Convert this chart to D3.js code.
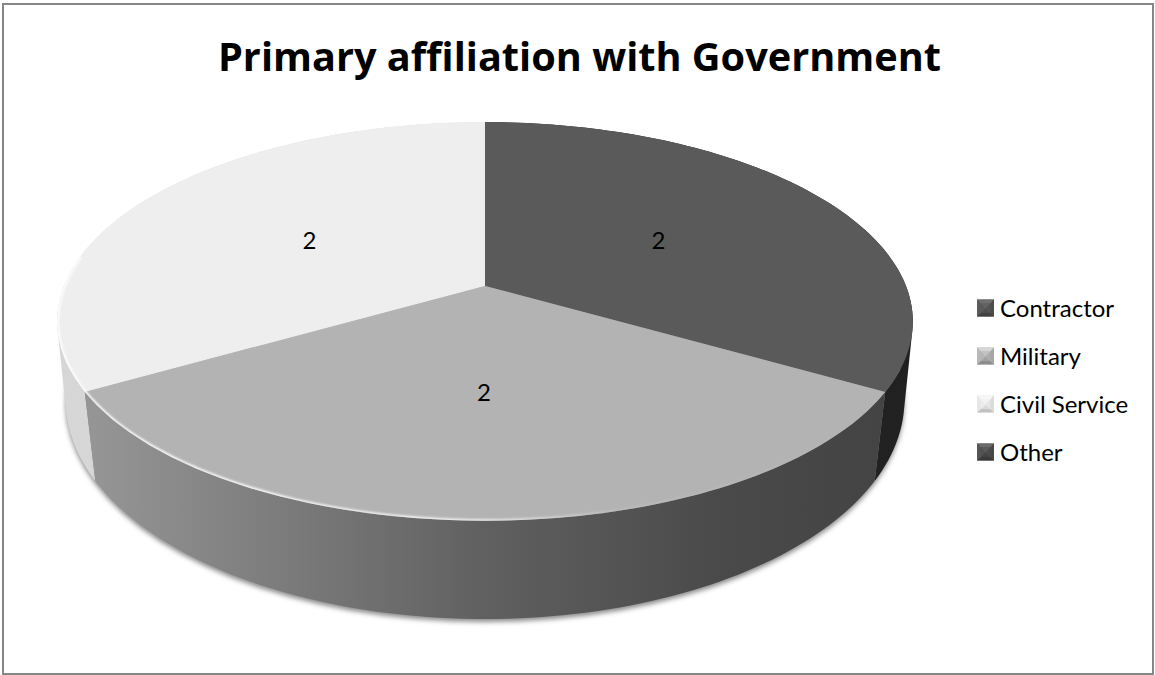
<!DOCTYPE html>
<html>
<head>
<meta charset="utf-8">
<script src="https://cdn.jsdelivr.net/npm/d3@7/dist/d3.min.js"></script>
<style>
html,body{margin:0;padding:0;background:#fff}
svg{display:block}
text{font-family:Lato,"Open Sans",sans-serif;fill:#000}
</style>
</head>
<body>
<svg id="chart" width="1155" height="675"></svg>
<script>
const chartTitle = "Primary affiliation with Government";
const categories = ["Contractor", "Military", "Civil Service", "Other"];
const values = [2, 2, 2, 0];
const topColors = ["#5a5a5a", "#b3b3b3", "#eeeeee", "#4c4c4c"];
const wallStops = [
  [[0, "#262626"], [1, "#212121"]],
  [[0, "#959595"], [0.5, "#606060"], [0.8, "#4a4a4a"], [1, "#444444"]],
  [[0, "#d6d6d6"], [1, "#dedede"]],
  [[0, "#444444"], [1, "#444444"]]
];
const legendShades = [
  ["#6f6f6f", "#404040", "#5a5a5a", "#4c4c4c"],
  ["#d6d6d6", "#8c8c8c", "#b8b8b8", "#a6a6a6"],
  ["#f6f6f6", "#c2c2c2", "#e6e6e6", "#dadada"],
  ["#6a6a6a", "#3a3a3a", "#555555", "#484848"]
];

const svg = d3.select("#chart");
const defs = svg.append("defs");

// Perspective view of a shallow cylinder: u,v lie in the disc (v towards the viewer),
// z goes from the top face (0) to the bottom face (1).
const camTop = {oy: 286, a: 421, b: 193, k: 0.178};
const camBottom = {oy: 365, a: 414, b: 213.4, k: 0.16};
const lerpCam = key => d3.interpolateNumber(camTop[key], camBottom[key]);
const camAt = {oy: lerpCam("oy"), a: lerpCam("a"), b: lerpCam("b"), k: lerpCam("k")};
const originX = 485;
function project(u, v, z) {
  const w = 1 - camAt.k(z) * v;
  return [originX + camAt.a(z) * u / w, camAt.oy(z) + camAt.b(z) * v / w];
}
const onDisc = (angle, r, z) => project(r * Math.sin(angle), -r * Math.cos(angle), z);
const line = d3.line();
const arcSteps = (a0, a1) => d3.range(0, 91).map(i => a0 + (a1 - a0) * i / 90);
const rim = (a0, a1, z) => arcSteps(a0, a1).map(t => onDisc(t, 1, z));

// Wall of one slice as a single path of same-winding quads, so the silhouette stays seamless.
function wallPath(a0, a1) {
  const ts = arcSteps(a0, a1);
  return d3.pairs(ts).map(([s, t]) => {
    const quad = [onDisc(s, 1, 0), onDisc(t, 1, 0), onDisc(t, 1, 1), onDisc(s, 1, 1)];
    if (d3.polygonArea(quad) < 0) quad.reverse();
    return line(quad) + "Z";
  }).join("");
}

const pieLayout = d3.pie().sort(null).value(d => d)(values);

defs.append("filter").attr("id", "softShadow")
  .attr("x", "-5%").attr("y", "-5%").attr("width", "110%").attr("height", "110%")
  .append("feGaussianBlur").attr("stdDeviation", 2.6);
defs.append("filter").attr("id", "softEdge")
  .attr("x", "-5%").attr("y", "-5%").attr("width", "110%").attr("height", "110%")
  .append("feGaussianBlur").attr("stdDeviation", 1.2);

// Chart frame
svg.append("rect").attr("x", 3).attr("y", 4).attr("width", 1150).attr("height", 670)
  .attr("fill", "#fff").attr("stroke", "#868686").attr("stroke-width", 2);

svg.append("text").attr("x", 579.5).attr("y", 71).attr("text-anchor", "middle")
  .style("font-family", '"Open Sans",sans-serif')
  .attr("font-size", 39.7).attr("font-weight", 700).text(chartTitle);

// Drop shadow hugging the lower edge of the cylinder
svg.append("path")
  .attr("d", line(rim(0, Math.PI * 2, 1).map(([x, y]) => [x, y + 3])) + "Z")
  .attr("fill", "#8a8a8a").attr("filter", "url(#softShadow)");

// Side walls, front slice last so it overlaps its neighbours at the seams
const walls = svg.append("g");
[2, 0, 1].forEach(i => {
  const slice = pieLayout[i];
  if (slice.value === 0) return;
  const gradId = "wall" + i;
  const pts = rim(slice.startAngle, slice.endAngle, 0).concat(rim(slice.startAngle, slice.endAngle, 1));
  const xs = i === 1
    ? [onDisc(slice.endAngle, 1, 1)[0], onDisc(slice.startAngle, 1, 1)[0]]
    : d3.extent(pts, p => p[0]);
  const grad = defs.append("linearGradient").attr("id", gradId)
    .attr("gradientUnits", "userSpaceOnUse")
    .attr("x1", xs[0]).attr("x2", xs[1]).attr("y1", 0).attr("y2", 0);
  wallStops[i].forEach(([o, c]) => grad.append("stop").attr("offset", o).attr("stop-color", c));
  walls.append("path").attr("d", wallPath(slice.startAngle, slice.endAngle)).attr("fill", `url(#${gradId})`);
});

// Top faces, each wedge closed through the disc centre
const faces = svg.append("g");
const wedge = s => line([onDisc(0, 0, 0)].concat(rim(s.startAngle, s.endAngle, 0))) + "Z";
pieLayout.forEach((slice, i) => {
  if (slice.value === 0) return;
  faces.append("path").attr("d", wedge(slice)).attr("fill", topColors[i]);
});

// Bevel light along the front rim, kept inside the top face
const clip = defs.append("clipPath").attr("id", "topFace");
clip.append("path").attr("d", line(rim(0, Math.PI * 2, 0)) + "Z");
const bevel = defs.append("linearGradient").attr("id", "bevelLight")
  .attr("gradientUnits", "userSpaceOnUse").attr("x1", 60).attr("x2", 880).attr("y1", 0).attr("y2", 0);
[[0, 1], [0.5, 0.8], [0.68, 0.1], [1, 0]].forEach(([o, a]) =>
  bevel.append("stop").attr("offset", o).attr("stop-color", "#ffffff").attr("stop-opacity", a));
svg.append("g").attr("clip-path", "url(#topFace)")
  .append("path")
  .attr("d", line(rim(Math.PI * 2 / 3, Math.PI * 1.55, 0)))
  .attr("fill", "none").attr("stroke", "url(#bevelLight)").attr("stroke-width", 3.5)
  .attr("filter", "url(#softEdge)");

// Value labels at mid radius of each slice
const labels = svg.append("g");
pieLayout.forEach(slice => {
  if (slice.value === 0) return;
  const [x, y] = onDisc((slice.startAngle + slice.endAngle) / 2, 0.5, 0);
  labels.append("text").attr("x", x - 1).attr("y", y + 9).attr("text-anchor", "middle")
    .attr("font-size", 24).text(slice.value);
});

// Legend with bevelled square keys
const legendY = d3.scalePoint().domain(categories).range([308, 452]);
const keySize = 17;
const legend = svg.append("g");
categories.forEach((name, i) => {
  const x0 = 977, y0 = legendY(name) - keySize / 2, x1 = x0 + keySize, y1 = y0 + keySize;
  const cx = x0 + keySize / 2, cy = y0 + keySize * 0.55;
  const inner = 3.5;
  const g = legend.append("g");
  g.append("rect").attr("x", x0).attr("y", y0).attr("width", keySize).attr("height", keySize)
    .attr("fill", legendShades[i][2]);
  [
    [[x0, y0], [x1, y0], [cx, cy], 0],
    [[x0, y1], [x1, y1], [cx, cy], 1],
    [[x0, y0], [x0, y1], [cx, cy], 2],
    [[x1, y0], [x1, y1], [cx, cy], 3]
  ].forEach(([a, b, c, s]) =>
    g.append("path").attr("d", line([a, b, c]) + "Z").attr("fill", legendShades[i][s]));
  g.append("rect").attr("x", x0 + inner).attr("y", y0 + inner)
    .attr("width", keySize - 2 * inner).attr("height", keySize - 2 * inner)
    .attr("fill", topColors[i]).attr("opacity", 0.55);
  legend.append("text").attr("x", 1000).attr("y", legendY(name) + 8.5)
    .attr("font-size", 24).text(name);
});
</script>
</body>
</html>
